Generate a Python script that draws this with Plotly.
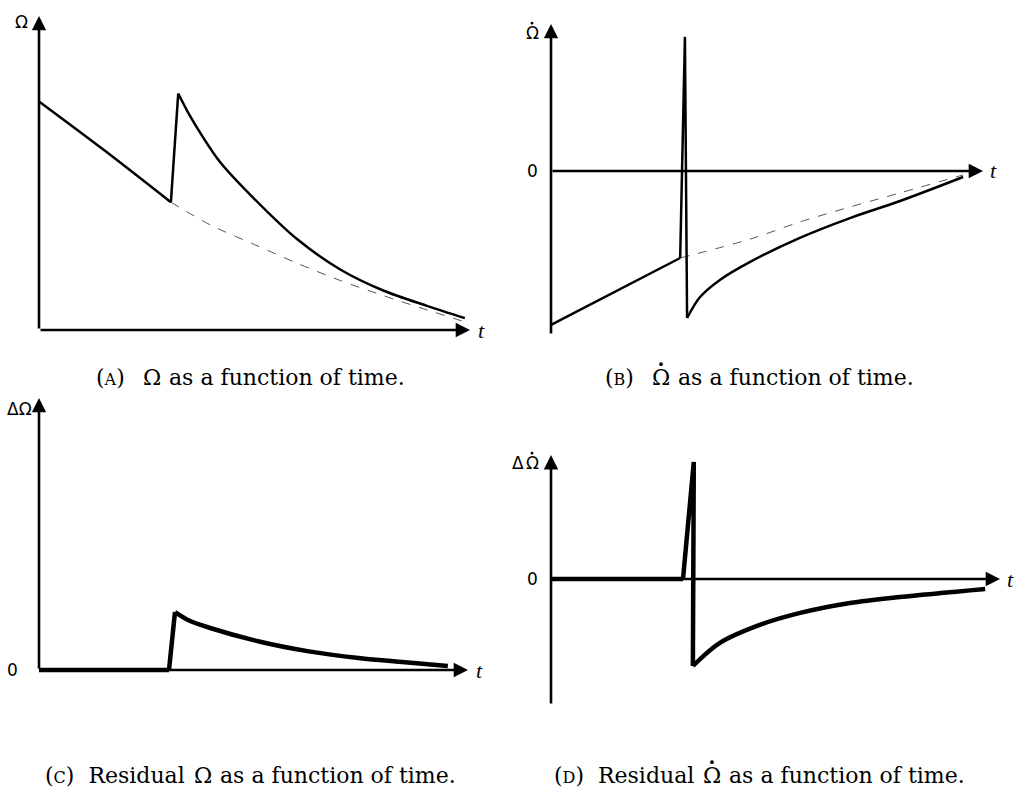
import plotly.graph_objects as go

W, H = 1018, 790

# ---- Panel A: Omega vs time (jump at index 2 -> 3) ----
a_t = [0, 1.5, 3.06, 3.23, 3.45, 3.8, 4.2, 5.0, 6.0, 7.0, 8.0, 9.0, 9.88]
a_omega = [7.28, 5.74, 4.07, 7.53, 6.95, 6.15, 5.35, 4.17, 2.88, 1.92, 1.25, 0.77, 0.38]
a_t_trend = [3.06, 4.0, 5.0, 6.0, 7.0, 8.0, 9.0, 9.88]
a_omega_trend = [4.07, 3.33, 2.72, 2.12, 1.57, 1.09, 0.64, 0.26]

# ---- Panel B: Omega-dot vs time (glitch at indices 1..3) ----
b_t = [0, 2.99, 3.10, 3.15, 3.45, 3.91, 4.61, 5.76, 6.92, 8.08, 9.54]
b_omegadot = [-5.13, -2.9, 4.47, -4.9, -4.2, -3.63, -3.03, -2.23, -1.57, -1.0, -0.2]
b_t_trend = [2.99, 4.61, 5.76, 6.92, 8.08, 9.54]
b_omegadot_trend = [-2.9, -2.27, -1.7, -1.2, -0.73, -0.13]

# ---- Panel C: residual Omega ----
c_t = [0, 3.03, 3.17, 3.5, 3.99, 5.13, 6.29, 7.45, 8.6, 9.53]
c_resid = [0, 0, 1.93, 1.65, 1.4, 0.95, 0.62, 0.4, 0.25, 0.13]

# ---- Panel D: residual Omega-dot ----
d_t = [0, 2.94, 3.18, 3.16, 3.76, 4.65, 5.55, 6.66, 7.77, 9.67]
d_resid = [0, 0, 3.9, -2.9, -2.13, -1.53, -1.13, -0.8, -0.6, -0.33]

# panel geometry: origin pixel, pixels per unit, visible ranges, axis extents
panels = {
    "A": dict(x0=39, sx=43.1, y0=330, sy=31.4, tr=(-0.4, 10.6), vr=(-0.4, 10.4),
              xaxis=(0, 10), yaxis=(0, 10), ax="x", ay="y"),
    "B": dict(x0=551, sx=43.2, y0=171, sy=30.0, tr=(-0.4, 10.6), vr=(-5.8, 5.2),
              xaxis=(0, 10), yaxis=(-5.47, 4.9), ax="x2", ay="y2"),
    "C": dict(x0=39, sx=42.9, y0=670, sy=30.0, tr=(-0.4, 10.6), vr=(-0.4, 9.4),
              xaxis=(0, 10), yaxis=(0, 9.07), ax="x3", ay="y3"),
    "D": dict(x0=551, sx=44.9, y0=579, sy=30.0, tr=(-0.4, 10.4), vr=(-4.5, 4.4),
              xaxis=(0, 10), yaxis=(-4.2, 4.13), ax="x4", ay="y4"),
}

fig = go.Figure()


def add_line(p, t, v, width, color="black", dash="solid", smooth=False):
    fig.add_trace(go.Scatter(x=t, y=v, mode="lines", xaxis=p["ax"], yaxis=p["ay"],
                             line=dict(color=color, width=width, dash=dash,
                                       shape="spline" if smooth else "linear",
                                       smoothing=0.9),
                             showlegend=False, hoverinfo="skip"))


def add_piecewise(p, t, v, sharp, width):
    """Straight lines through the jump points, smooth curves elsewhere."""
    lo, hi = sharp
    add_line(p, t[:lo + 1], v[:lo + 1], width, smooth=True)
    add_line(p, t[lo:hi + 1], v[lo:hi + 1], width)
    add_line(p, t[hi:], v[hi:], width, smooth=True)


add_line(panels["A"], a_t_trend, a_omega_trend, 1, "#555555", "dash", smooth=True)
add_piecewise(panels["A"], a_t, a_omega, (2, 3), 2.5)
add_line(panels["B"], b_t_trend, b_omegadot_trend, 1, "#555555", "dash", smooth=True)
add_piecewise(panels["B"], b_t, b_omegadot, (1, 3), 2.5)
add_piecewise(panels["C"], c_t, c_resid, (1, 2), 4.5)
add_piecewise(panels["D"], d_t, d_resid, (1, 3), 4.5)

layout = dict(width=W, height=H, margin=dict(l=0, r=0, t=0, b=0),
              paper_bgcolor="white", plot_bgcolor="white", showlegend=False)
annotations = []
shapes = []

for i, (name, p) in enumerate(panels.items()):
    suffix = "" if i == 0 else str(i + 1)
    xd = [(p["x0"] + p["tr"][0] * p["sx"]) / W, (p["x0"] + p["tr"][1] * p["sx"]) / W]
    yd = [1 - (p["y0"] - p["vr"][0] * p["sy"]) / H, 1 - (p["y0"] - p["vr"][1] * p["sy"]) / H]
    layout["xaxis" + suffix] = dict(domain=xd, range=list(p["tr"]), visible=False,
                                    anchor=p["ay"], fixedrange=True)
    layout["yaxis" + suffix] = dict(domain=yd, range=list(p["vr"]), visible=False,
                                    anchor=p["ax"], fixedrange=True)
    # horizontal time axis with arrow
    annotations.append(dict(x=p["xaxis"][1], y=0, ax=p["xaxis"][0], ay=0,
                            xref=p["ax"], yref=p["ay"], axref=p["ax"], ayref=p["ay"],
                            text="", showarrow=True, arrowhead=2, arrowsize=1.1,
                            arrowwidth=2.6, arrowcolor="black", standoff=0))
    # vertical value axis with arrow
    annotations.append(dict(x=0, y=p["yaxis"][1], ax=0, ay=p["yaxis"][0],
                            xref=p["ax"], yref=p["ay"], axref=p["ax"], ayref=p["ay"],
                            text="", showarrow=True, arrowhead=2, arrowsize=1.1,
                            arrowwidth=2.6, arrowcolor="black", standoff=0))


def label(px, py, text, size=18, family="DejaVu Sans", xanchor="center"):
    annotations.append(dict(x=px / W, y=1 - py / H, xref="paper", yref="paper",
                            text=text, showarrow=False, xanchor=xanchor, yanchor="middle",
                            font=dict(family=family, size=size, color="black")))


def overdot(px, py, r):
    """Small filled dot (time-derivative mark) centred at pixel (px, py)."""
    shapes.append(dict(type="circle", xref="paper", yref="paper",
                       x0=(px - r) / W, x1=(px + r) / W,
                       y0=1 - (py + r) / H, y1=1 - (py - r) / H,
                       fillcolor="black", line=dict(width=0)))


def omega_dot(px, py, size, family):
    label(px, py, "Ω", size, family)
    overdot(px, py - size * 0.58, size * 0.085)


sans = "DejaVu Sans"
serif = "DejaVu Serif"

# axis names
label(21, 22, "Ω", 17, sans)
omega_dot(532, 33, 17, sans)
label(34, 409, "ΔΩ", 17, sans, xanchor="right")
label(518, 463, "Δ", 17, sans)
omega_dot(532, 463, 17, sans)
# zero marks
label(532, 171, "0", 17, sans)
label(12, 670, "0", 17, sans)
label(532, 579, "0", 17, sans)
# time labels
for px, py in [(481, 330), (993, 170), (479, 670), (1010, 579)]:
    label(px, py, "<i>t</i>", 22, "Liberation Serif")

# captions: prefix, Omega (dotted for derivatives), remainder
sc = "<span style='font-size:16px'>{}</span>"
cap_size = 22
captions = [
    ("(" + sc.format("A") + ")", 152, 377, False, 25),
    ("(" + sc.format("B") + ")", 661, 377, True, 25),
    ("(" + sc.format("C") + ")  Residual", 203, 775, False, 16),
    ("(" + sc.format("D") + ")  Residual", 712, 775, True, 16),
]
for prefix, ox, oy, dot, gap in captions:
    label(ox - gap, oy, prefix, cap_size, serif, xanchor="right")
    if dot:
        omega_dot(ox, oy, cap_size, serif)
    else:
        label(ox, oy, "Ω", cap_size, serif)
    label(ox + 15, oy, "as a function of time.", cap_size, serif, xanchor="left")

layout["annotations"] = annotations
layout["shapes"] = shapes
fig.update_layout(**layout)
fig.write_html("out.html")
